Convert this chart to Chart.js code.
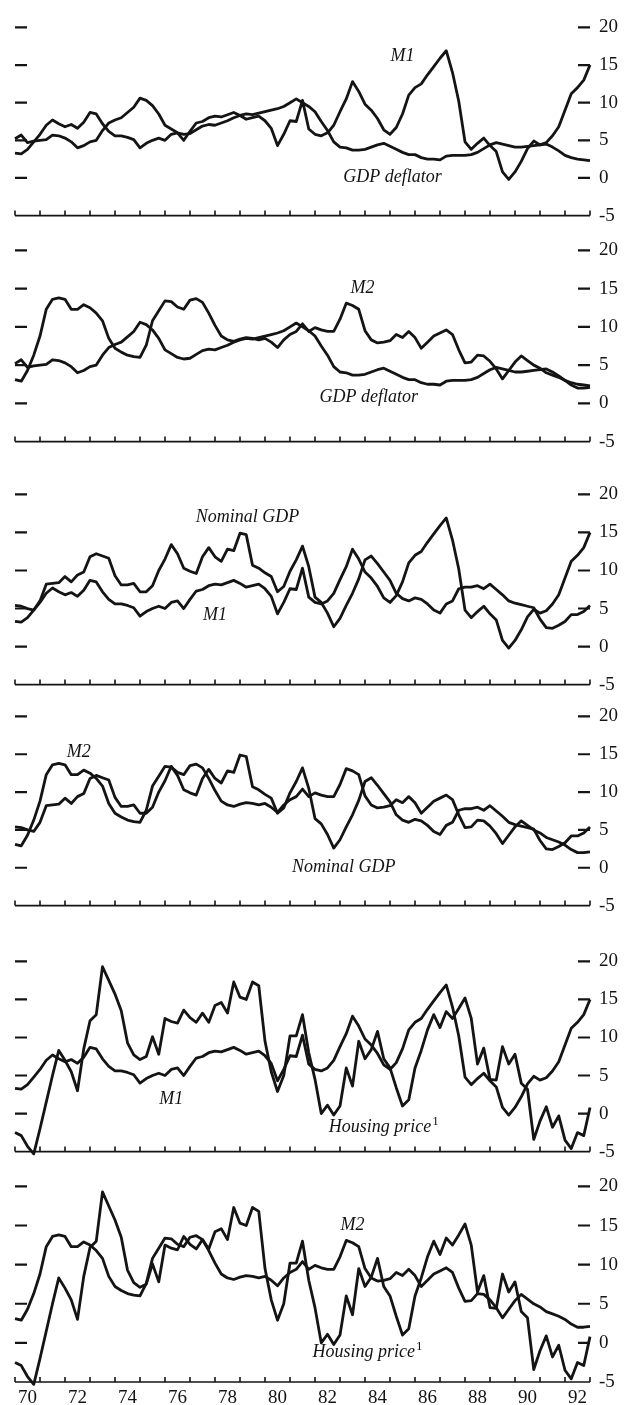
<!DOCTYPE html>
<html>
<head>
<meta charset="utf-8">
<script src="https://cdn.jsdelivr.net/npm/chart.js@4.4.1/dist/chart.umd.min.js"></script>
<style>
  html, body { margin: 0; padding: 0; background: #fff; }
  body { width: 626px; height: 1405px; position: relative; overflow: hidden; }
  canvas { position: absolute; left: 0; }
</style>
</head>
<body>
<script>
// quarterly observations, 1970Q1 .. 1993Q1 (x = decimal year)
const quarters = Array.from({ length: 93 }, (_, i) => 1970 + i / 4);

// growth rates, per cent
const m1 = [
  3.3, 3.2, 3.8, 4.8,   5.8, 7.0, 7.7, 7.2,   6.8, 7.1, 6.6, 7.4,   8.7, 8.5, 7.2, 6.2,
  5.6, 5.6, 5.4, 5.1,   4.0, 4.6, 5.0, 5.3,   5.0, 5.8, 6.0, 5.0,   6.2, 7.3, 7.5, 8.0,
  8.2, 8.1, 8.4, 8.7,   8.3, 7.8, 8.0, 8.2,   7.6, 6.6, 4.3, 5.8,   7.6, 7.5, 10.3, 6.5,
  5.8, 5.6, 6.0, 7.0,   8.8, 10.5, 12.8, 11.5, 9.8, 9.0, 7.9, 6.4,  5.8, 6.7, 8.5, 11.0,
  12.0, 12.5, 13.7, 14.8, 15.9, 16.9, 14.0, 10.2, 4.8, 3.8, 4.6, 5.3, 4.3, 3.5, 0.8, -0.2,
  0.8, 2.2, 3.9, 4.9,   4.4, 4.7, 5.6, 6.8,   9.0, 11.2, 12.0, 13.0, 15.0
];
const deflator = [
  5.2, 5.7, 4.7, 4.9,   5.0, 5.1, 5.7, 5.6,   5.3, 4.8, 4.0, 4.3,   4.8, 5.0, 6.3, 7.3,
  7.7, 8.0, 8.7, 9.4,   10.6, 10.3, 9.6, 8.5, 7.0, 6.5, 6.0, 5.8,   5.9, 6.4, 6.9, 7.1,
  7.0, 7.3, 7.6, 8.0,   8.3, 8.5, 8.4, 8.6,   8.8, 9.0, 9.2, 9.5,   10.0, 10.5, 10.0, 9.5,
  8.8, 7.5, 6.3, 4.8,   4.1, 4.0, 3.7, 3.7,   3.8, 4.1, 4.4, 4.6,   4.2, 3.8, 3.4, 3.1,
  3.1, 2.7, 2.5, 2.5,   2.4, 2.9, 3.0, 3.0,   3.0, 3.1, 3.4, 3.9,   4.4, 4.7, 4.5, 4.3,
  4.1, 4.1, 4.2, 4.3,   4.4, 4.5, 4.1, 3.6,   3.0, 2.7, 2.5, 2.4,   2.3
];
const m2 = [
  3.1, 2.9, 4.3, 6.3,   8.8, 12.3, 13.6, 13.8, 13.6, 12.3, 12.3, 12.9, 12.5, 11.8, 10.8, 8.5,
  7.2, 6.7, 6.3, 6.1,   6.0, 7.6, 10.8, 12.1, 13.4, 13.3, 12.6, 12.3, 13.5, 13.7, 13.2, 11.8,
  10.2, 8.8, 8.3, 8.1,  8.4, 8.6, 8.5, 8.3,   8.5, 8.0, 7.3, 8.3,   9.0, 9.4, 10.4, 9.4,
  9.9, 9.6, 9.4, 9.4,   11.0, 13.1, 12.8, 12.3, 9.5, 8.3, 7.9, 8.0,  8.2, 9.0, 8.6, 9.4,
  8.6, 7.2, 8.0, 8.8,   9.2, 9.6, 9.0, 7.0,   5.3, 5.4, 6.3, 6.2,   5.5, 4.5, 3.2, 4.3,
  5.4, 6.2, 5.6, 5.0,   4.6, 4.0, 3.7, 3.4,   3.0, 2.4, 2.0, 2.0,   2.1
];
const nominalGdp = [
  5.4, 5.3, 5.0, 4.8,   6.0, 8.2, 8.3, 8.4,   9.2, 8.5, 9.4, 9.8,   11.8, 12.2, 11.9, 11.6,
  9.3, 8.1, 8.1, 8.3,   7.2, 7.2, 8.0, 10.0,  11.5, 13.4, 12.2, 10.3, 9.9, 9.6, 11.8, 13.0,
  11.8, 11.2, 12.8, 12.6, 14.9, 14.7, 10.7, 10.3, 9.7, 9.2, 7.2, 7.9, 9.9, 11.4, 13.2, 10.5,
  6.5, 5.8, 4.4, 2.6,   3.7, 5.4, 7.0, 8.9,   11.4, 11.9, 10.9, 9.8, 8.7, 7.0, 6.3, 6.0,
  6.4, 6.2, 5.6, 4.8,   4.4, 5.6, 6.0, 7.6,   7.8, 7.8, 8.0, 7.6,   8.2, 7.5, 6.8, 6.0,
  5.7, 5.5, 5.3, 5.1,   3.6, 2.5, 2.4, 2.8,   3.3, 4.2, 4.2, 4.6,   5.4
];
const housing = [
  -2.5, -2.9, -4.3, -5.3, -2.0, 1.5, 5.0, 8.3,  7.0, 5.5, 3.0, 8.5,   12.2, 13.0, 19.3, 17.5,
  15.7, 13.5, 9.3, 7.7,  7.1, 7.5, 10.1, 7.8,  12.5, 12.1, 11.9, 13.6, 12.6, 12.0, 13.2, 12.0,
  14.2, 14.6, 13.2, 17.3, 15.3, 15.0, 17.3, 16.8, 9.5, 5.5, 2.9, 5.0, 10.2, 10.2, 13.0, 8.0,
  4.5, 0.0, 1.1, -0.2,  1.0, 6.0, 3.6, 9.5,   7.2, 8.4, 10.8, 7.2,  6.0, 3.4, 1.0, 1.8,
  6.0, 8.3, 11.0, 13.0, 11.3, 13.4, 12.5, 13.8, 15.2, 12.5, 6.5, 8.6, 4.5, 4.4, 8.8, 6.5,
  7.8, 4.0, 3.2, -3.4,  -1.0, 0.9, -1.8, -0.3, -3.5, -4.6, -2.5, -2.9, 0.8
];

const yTicks = [-5, 0, 5, 10, 15, 20];
const yearTicks = [1970, 1971, 1972, 1973, 1974, 1975, 1976, 1977, 1978, 1979, 1980, 1981,
                   1982, 1983, 1984, 1985, 1986, 1987, 1988, 1989, 1990, 1991, 1992, 1993];
const xTickLabels = ['70', '72', '74', '76', '78', '80', '82', '84', '86', '88', '90', '92'];

// panel layout: pixel row of the 20 line and of the -5 axis
const panels = [
  { top: 23, bottom: 222, series: [m1, deflator],
    notes: [{ text: 'M1', x: 1985.5, y: 16.1 }, { text: 'GDP deflator', x: 1985.1, y: 0.1 }] },
  { top: 246, bottom: 448, series: [m2, deflator],
    notes: [{ text: 'M2', x: 1983.9, y: 15.0 }, { text: 'GDP deflator', x: 1984.15, y: 0.75 }] },
  { top: 490, bottom: 691, series: [nominalGdp, m1],
    notes: [{ text: 'Nominal GDP', x: 1979.3, y: 17.0 }, { text: 'M1', x: 1978.0, y: 4.1 }] },
  { top: 712, bottom: 912, series: [m2, nominalGdp],
    notes: [{ text: 'M2', x: 1972.55, y: 15.25 }, { text: 'Nominal GDP', x: 1983.15, y: 0.0 }] },
  { top: 957, bottom: 1158, series: [m1, housing],
    notes: [{ text: 'M1', x: 1976.25, y: 1.9 }, { text: 'Housing price', sup: '1', x: 1984.75, y: -1.8 }] },
  { top: 1182, bottom: 1382, series: [m2, housing],
    notes: [{ text: 'M2', x: 1983.5, y: 15.0 }, { text: 'Housing price', sup: '1', x: 1984.1, y: -1.25 }] }
];

const INK = '#141414';
const SERIF = '"Liberation Serif", "Times New Roman", serif';
const PAD_TOP = 16, PAD_BOTTOM = 14, XAXIS_H = 30;
const PLOT_LEFT = 15, PLOT_RIGHT = 590;

// tick dashes, bottom axis with year marks, and the italic series names
const decor = {
  id: 'decor',
  afterDatasetsDraw(chart, args, opts) {
    const { ctx, chartArea: a, scales: { x, y } } = chart;
    ctx.save();
    ctx.strokeStyle = INK;
    ctx.lineWidth = 2.2;
    ctx.beginPath();
    yTicks.filter(v => v > -5).forEach(v => {
      const py = y.getPixelForValue(v);
      ctx.moveTo(a.left, py); ctx.lineTo(a.left + 12, py);
      ctx.moveTo(a.right - 12, py); ctx.lineTo(a.right, py);
    });
    ctx.stroke();

    ctx.lineWidth = 1.6;
    ctx.beginPath();
    const by = y.getPixelForValue(-5);
    ctx.moveTo(a.left, by); ctx.lineTo(a.right, by);
    yearTicks.forEach(yr => {
      const px = x.getPixelForValue(yr);
      ctx.moveTo(px, by); ctx.lineTo(px, by - 5);
    });
    ctx.stroke();

    ctx.fillStyle = INK;
    ctx.textBaseline = 'middle';
    opts.notes.forEach(n => {
      const px = x.getPixelForValue(n.x), py = y.getPixelForValue(n.y);
      ctx.font = 'italic 18px ' + SERIF;
      const w = ctx.measureText(n.text).width;
      let sw = 0;
      if (n.sup) {
        ctx.font = '13px ' + SERIF;
        sw = ctx.measureText(n.sup).width + 1;
      }
      const left = px - (w + sw) / 2;
      ctx.font = 'italic 18px ' + SERIF;
      ctx.textAlign = 'left';
      ctx.fillText(n.text, left, py);
      if (n.sup) {
        ctx.font = '13px ' + SERIF;
        ctx.fillText(n.sup, left + w + 1, py - 6);
      }
    });
    ctx.restore();
  }
};

panels.forEach((p, idx) => {
  const last = idx === panels.length - 1;
  const h = PAD_TOP + (p.bottom - p.top) + (last ? XAXIS_H : PAD_BOTTOM);
  const cv = document.createElement('canvas');
  cv.width = 626; cv.height = h;
  cv.style.width = '626px'; cv.style.height = h + 'px';
  cv.style.top = (p.top - PAD_TOP) + 'px';
  document.body.appendChild(cv);

  new Chart(cv.getContext('2d'), {
    type: 'line',
    data: {
      datasets: p.series.map(s => ({
        data: s.map((v, i) => ({ x: quarters[i], y: v })),
        borderColor: INK,
        borderWidth: 2.8,
        borderJoinStyle: 'round',
        pointRadius: 0,
        tension: 0,
        fill: false,
        clip: false
      }))
    },
    options: {
      responsive: false,
      animation: false,
      devicePixelRatio: 1,
      layout: { padding: { left: PLOT_LEFT, right: 0, top: PAD_TOP, bottom: last ? 0 : PAD_BOTTOM } },
      plugins: {
        legend: { display: false },
        tooltip: { enabled: false },
        decor: { notes: p.notes }
      },
      scales: {
        x: {
          type: 'linear',
          min: 1970,
          max: 1993,
          display: last,
          grid: { display: false, drawTicks: false },
          border: { display: false },
          afterBuildTicks: s => { s.ticks = xTickLabels.map((_, i) => ({ value: 1970.5 + 2 * i })); },
          afterFit: s => { s.height = last ? XAXIS_H : 0; },
          ticks: {
            autoSkip: false,
            maxRotation: 0,
            padding: 5,
            color: INK,
            font: { family: SERIF, size: 19 },
            callback: (v, i) => xTickLabels[i]
          }
        },
        y: {
          position: 'right',
          min: -5,
          max: 20,
          grid: { display: false, drawTicks: false },
          border: { display: false },
          afterBuildTicks: s => { s.ticks = yTicks.map(v => ({ value: v })); },
          afterFit: s => { s.width = 626 - PLOT_RIGHT; },
          ticks: {
            padding: 9,
            color: INK,
            font: { family: SERIF, size: 19 },
            callback: v => String(v)
          }
        }
      }
    },
    plugins: [decor]
  });
});
</script>
</body>
</html>
